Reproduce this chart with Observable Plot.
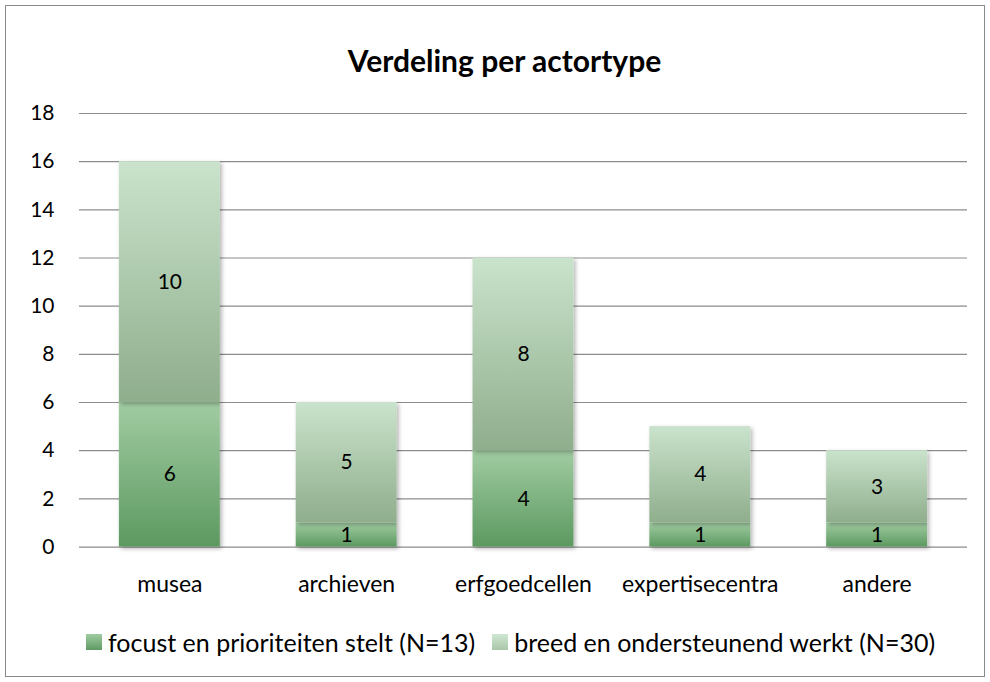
<!DOCTYPE html>
<html>
<head>
<meta charset="utf-8">
<script src="https://cdn.jsdelivr.net/npm/d3@7"></script>
<script src="https://cdn.jsdelivr.net/npm/@observablehq/plot@0.6"></script>
<style>
  html, body { margin: 0; padding: 0; background: #fff; }
  #frame {
    position: absolute; left: 5px; top: 5px; width: 980px; height: 672px;
    box-sizing: border-box; border: 1px solid #8a8a8a; background: #fff;
    font-family: Lato, "Open Sans", sans-serif; color: #000;
  }
  #title {
    position: absolute; left: 19px; right: 0; top: 36px; text-align: center;
    font-weight: bold; font-size: 30px; line-height: 36px;
  }
  #chart { position: absolute; left: -1px; top: 84px; }
  #legend {
    position: absolute; left: 80px; top: 621px; display: flex; align-items: center;
    font-size: 25px; line-height: 30px; white-space: nowrap;
  }
  .item { display: flex; align-items: center; margin-right: 17px; }
  .sw { display: inline-block; width: 16px; height: 16px; margin-right: 6px; }
</style>
</head>
<body>
<div id="frame">
  <div id="title">Verdeling per actortype</div>
  <div id="chart"></div>
  <div id="legend"></div>
</div>
<script>
const categories = ["musea", "archieven", "erfgoedcellen", "expertisecentra", "andere"];
const focusValues = [6, 1, 4, 1, 1];
const breedValues = [10, 5, 8, 4, 3];
const seriesNames = ["focust en prioriteiten stelt (N=13)", "breed en ondersteunend werkt (N=30)"];
const yTicks = [0, 2, 4, 6, 8, 10, 12, 14, 16, 18];

const seriesFill = ["url(#gFocus)", "url(#gBreed)"];
const seriesSwatch = ["linear-gradient(#a1cca2,#5f9a62)", "linear-gradient(#d0e7d2,#a9c6a8)"];

const data = categories.flatMap((c, i) => [
  {cat: c, series: 0, value: focusValues[i]},
  {cat: c, series: 1, value: breedValues[i]}
]);

const plot = Plot.plot({
  width: 980,
  height: 516,
  marginLeft: 74,
  marginRight: 17,
  marginTop: 23,
  marginBottom: 59,
  style: {fontFamily: "Lato, 'Open Sans', sans-serif", fontSize: "21px", color: "#000", background: "transparent"},
  x: {domain: categories, paddingInner: 0.43, paddingOuter: 0.215, label: null, axis: null},
  y: {domain: [0, 18], label: null, axis: null},
  color: {type: "identity"},
  marks: [
    Plot.ruleY(yTicks, {stroke: "#8c8c8c", strokeWidth: 1.2}),
    Plot.axisY(yTicks, {tickSize: 0, tickPadding: 25, fontSize: 21, label: null}),
    Plot.axisX(categories, {tickSize: 0, tickPadding: 29, fontSize: 23, label: null}),
    Plot.barY(data, Plot.stackY({x: "cat", y: "value", z: "series", fill: d => seriesFill[d.series]})),
    Plot.text(data, Plot.stackY({x: "cat", y: "value", z: "series", text: "value", fontSize: 21, fill: "#000"}))
  ]
});

// gradients and shadow
const svg = d3.select(plot.tagName === "svg" ? plot : plot.querySelector("svg"));
const defs = svg.insert("defs", ":first-child");
function grad(id, top, bottom) {
  const g = defs.append("linearGradient").attr("id", id).attr("x1", 0).attr("y1", 0).attr("x2", 0).attr("y2", 1);
  g.append("stop").attr("offset", "0%").attr("stop-color", top);
  g.append("stop").attr("offset", "100%").attr("stop-color", bottom);
}
grad("gFocus", "#a1cca2", "#5c9960");
grad("gBreed", "#cae3cc", "#8fae8c");
const f = defs.append("filter").attr("id", "shadow").attr("x", "-20%").attr("y", "-20%").attr("width", "140%").attr("height", "140%");
f.append("feDropShadow").attr("dx", 2).attr("dy", 2).attr("stdDeviation", 2).attr("flood-color", "#000").attr("flood-opacity", 0.3);
svg.selectAll("rect").filter(function() { return (this.getAttribute("fill") || "").startsWith("url"); })
  .attr("filter", "url(#shadow)");

document.getElementById("chart").appendChild(plot);

const legend = document.getElementById("legend");
seriesNames.forEach((name, i) => {
  const span = document.createElement("span");
  span.className = "item";
  const sw = document.createElement("span");
  sw.className = "sw";
  sw.style.background = seriesSwatch[i];
  span.appendChild(sw);
  span.appendChild(document.createTextNode(name));
  legend.appendChild(span);
});
</script>
</body>
</html>
